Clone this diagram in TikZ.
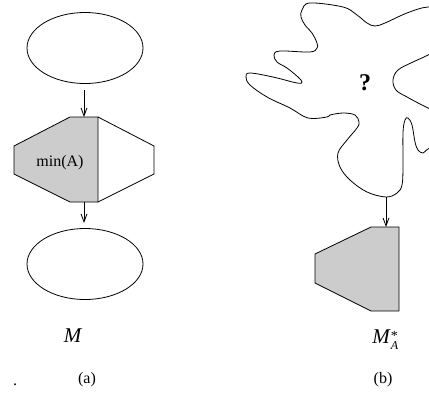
\documentclass[tikz,border=0pt]{standalone}
\usepackage{fontspec}
\setmainfont{Liberation Serif}
\usetikzlibrary{shapes.geometric,arrows.meta}

\begin{document}
\begin{tikzpicture}
[
    x=1pt, y=-1pt,
    line width=0.8pt,
    oval/.style={draw, ellipse, minimum width=116pt, minimum height=71pt, inner sep=0pt},
    flow/.style={-{Straight Barb[length=8pt,width=6pt]}},
    part/.style={draw, fill=black!20},
    lbl/.style={font=\fontsize{16}{19}\selectfont, inner sep=0pt},
    big/.style={font=\fontsize{21}{25}\selectfont, inner sep=0pt},
]
\useasboundingbox (0,0) rectangle (429,392);
\node [oval] (top) at (85,48) {};
\node [oval] (bottom) at (85,264) {};
\coordinate (hextop) at (84,117);
\coordinate (hexbot) at (84,202);
\draw [part] (70,117) -- (98,117) -- (98,202) -- (70,202) -- (14,174) -- (14,146) -- cycle;
\draw (98,117) -- (154,146) -- (154,174) -- (98,202);
\node [lbl, anchor=base west] (minA) at (36,166) {min(A)};
\draw [flow] (84,90) -- (hextop);
\draw [flow] (hexbot) -- (84,223);
\node [big] (M) at (73,336) {\textit{M}};
\node [lbl] (capa) at (87,380) {(a)};
\node [lbl] (dot) at (15,385) {.};
\draw plot [smooth cycle, tension=0.6] coordinates {
    (310,3) (343,7) (357,15) (367,23) (375,26) (385,23) (407,13) (428,7)
    (450,10) (455,40) (428,55) (413,62) (398,70) (393,80) (396,90) (407,97)
    (428,108) (445,115) (445,140) (428,149) (423,153) (418,150) (415,142)
    (412,125) (408,118) (405,120) (403,133) (403,167) (402,185) (397,193)
    (386,197) (367,192) (350,180) (340,167) (338,153) (347,140) (357,128)
    (359,122) (355,115) (343,113) (330,115) (327,117) (308,118) (290,108)
    (267,97) (250,85) (246,77) (250,73) (273,77) (297,83) (302,82) (298,77)
    (287,68) (277,62) (274,55) (280,51) (310,52) (317,48) (317,43) (312,33)
    (305,25) (301,17) (302,10)
};
\coordinate (blobbot) at (386,197);
\node [inner sep=0pt, font=\fontsize{24}{28}\selectfont\bfseries] (quest) at (365,83) {?};
\coordinate (traptop) at (386,227);
\draw [part] (371,227) -- (399,227) -- (399,311) -- (371,311) -- (315,283) -- (315,254) -- cycle;
\draw [flow] (blobbot) -- (traptop);
\node [big, anchor=base west] (MA) at (372,343)
    {\textit{M}\rlap{\raisebox{3pt}{\fontsize{14}{14}\selectfont *}}\raisebox{-6pt}{\fontsize{12}{12}\selectfont\textit{A}}};
\node [lbl] (capb) at (383,380) {(b)};
\end{tikzpicture}
\end{document}
